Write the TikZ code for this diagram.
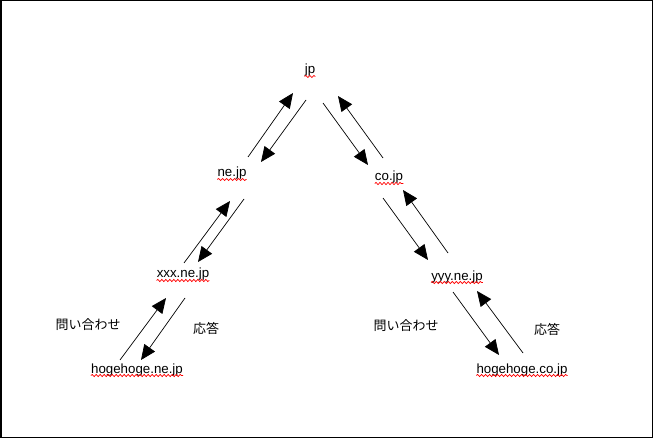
\documentclass[tikz,border=0pt]{standalone}
\usepackage{fontspec}
\setmainfont{Liberation Sans}
\newfontfamily\jpfont{Noto Sans CJK JP}
\usetikzlibrary{arrows.meta,decorations.pathmorphing}

\begin{document}
\begin{tikzpicture}[x=1pt,y=-1pt,
thin,domain node/.style = {anchor=base, inner sep=0pt, font=\fontsize{13.3}{16}\selectfont},
label node/.style = {inner sep=0pt, font=\jpfont\fontsize{13}{16}\selectfont},
arr/.style = {draw=black, line width=0.7pt, -{Triangle[length=15pt,width=13pt]}},
wavy/.style = {red, line width=0.7pt, decorate, decoration={snake, amplitude=1.1pt, segment length=4pt}}]

\useasboundingbox (0,0) rectangle (653,438);
\draw[line width=1.5pt] (0.75,0.75) rectangle (652.25,437.25);

\node[domain node] at (310,74) (jp) {jp};
\node[domain node] at (232,177) (ne) {ne.jp};
\node[domain node] at (389,181) (co) {co.jp};
\node[domain node] at (183,278) (xxx) {xxx.ne.jp};
\node[domain node] at (457,280) (yyy) {yyy.ne.jp};
\node[domain node] at (137,373) (hne) {hogehoge.ne.jp};
\node[domain node] at (522,373) (hco) {hogehoge.co.jp};
\node[label node] at (88,325) (q1) {問い合わせ};
\node[label node] at (206,328) (a1) {応答};
\node[label node] at (406,326) (q2) {問い合わせ};
\node[label node] at (547,329) (a2) {応答};

\foreach \n in {jp,ne,co,xxx,yyy,hne,hco}
  \draw[wavy] ([yshift=-2.5pt]\n.base west) -- ([yshift=-2.5pt]\n.base east);

\path
([shift={(16,-20)}]ne.base) edge[arr] ([shift={(-17,19)}]jp.base)
([shift={(-4,26)}]jp.base) edge[arr] ([shift={(29,-15)}]ne.base)
([shift={(13,29)}]jp.base) edge[arr] ([shift={(-21,-16)}]co.base)
([shift={(-6,-23)}]co.base) edge[arr] ([shift={(28,22)}]jp.base)
([shift={(1,-15)}]xxx.base) edge[arr] ([shift={(-2,24)}]ne.base)
([shift={(12,22)}]ne.base) edge[arr] ([shift={(15,-16)}]xxx.base)
([shift={(-6,17)}]co.base) edge[arr] ([shift={(-29,-20)}]yyy.base)
([shift={(-9,-27)}]yyy.base) edge[arr] ([shift={(14,9)}]co.base)
([shift={(-17,-13)}]hne.base) edge[arr] ([shift={(-17,20)}]xxx.base)
([shift={(2,20)}]xxx.base) edge[arr] ([shift={(4,-13)}]hne.base)
([shift={(-4,12)}]yyy.base) edge[arr] ([shift={(-23,-18)}]hco.base)
([shift={(1,-20)}]hco.base) edge[arr] ([shift={(20,11)}]yyy.base);
\end{tikzpicture}
\end{document}
